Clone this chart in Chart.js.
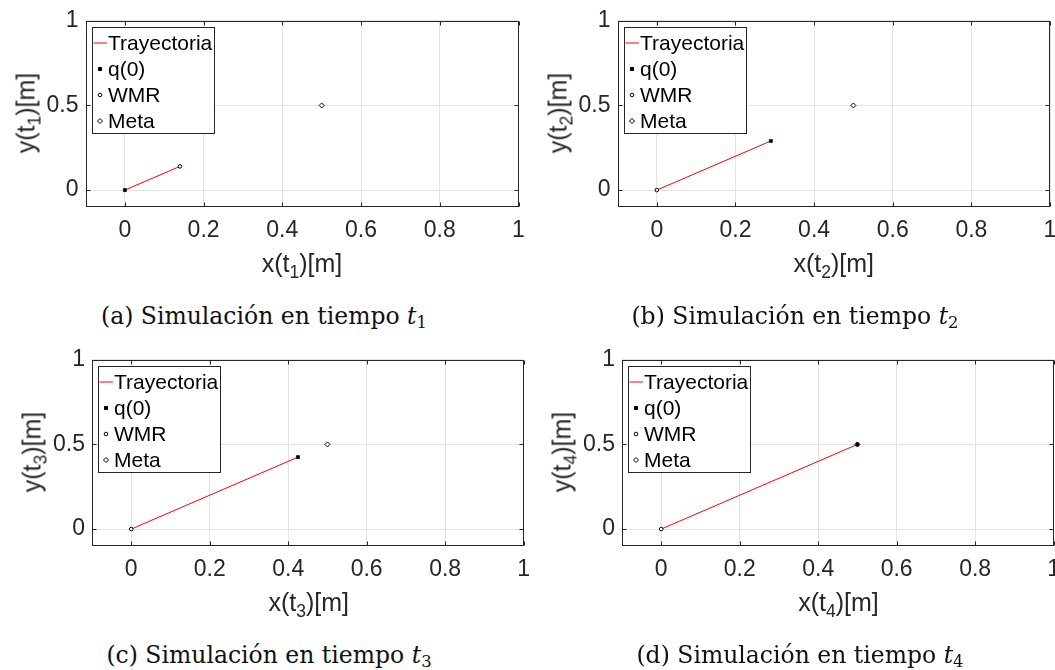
<!DOCTYPE html>
<html>
<head>
<meta charset="utf-8">
<script src="https://cdn.jsdelivr.net/npm/chart.js@4.4.1/dist/chart.umd.min.js"></script>
<style>
  html, body { margin: 0; padding: 0; background: #fff; }
  body { width: 1055px; height: 670px; position: relative; overflow: hidden; font-family: "Liberation Sans", Arial, sans-serif; }
  .panel { position: absolute; }
  .panel canvas { display: block; }
  .axlab { position: absolute; color: #262626; font-size: 25px; line-height: 1; white-space: nowrap; }
  .axlab.x { transform: translate(-50%, -50%); }
  .axlab.y { transform: translate(-50%, -50%) rotate(-90deg); }
  .axlab sub { font-size: 70%; vertical-align: -0.35em; line-height: 0; }
  .cap { position: absolute; font-family: "DejaVu Serif", serif; font-size: 23.5px; color: #111; white-space: nowrap; transform: translate(-50%, -50%); }
  .cap sub { font-size: 70%; vertical-align: -0.25em; line-height: 0; font-style: normal; }
</style>
</head>
<body>
<div id="fig"></div>
<script>
// ===== Data =====
var panelKeys = ['a', 'b', 'c', 'd'];
var timeIdx = ['1', '2', '3', '4'];
var xTicks = [0, 0.2, 0.4, 0.6, 0.8, 1];
var yTicks = [0, 0.5, 1];
var legendLabels = ['Trayectoria', 'q(0)', 'WMR', 'Meta'];

// trajectory from the start pose to the current pose, one per snapshot
var trajX = [[0, 0.14], [0, 0.29], [0, 0.425], [0, 0.5]];
var trajY = [[0, 0.14], [0, 0.29], [0, 0.425], [0, 0.5]];
var q0X = [0, 0.29, 0.425, 0.5];
var q0Y = [0, 0.29, 0.425, 0.5];
var wmrX = [0.14, 0, 0, 0];
var wmrY = [0.14, 0, 0, 0];
var metaX = [0.5, 0.5, 0.5, 0.5];
var metaY = [0.5, 0.5, 0.5, 0.5];

// ===== Layout (page pixels) =====
// container: left, top, width, height; area: plot box left, top, right, bottom
var panels = [
  { box: [0, 0, 540, 300],   area: [85.5, 18.3, 518.5, 207], cap: [264, 316] },
  { box: [525, 0, 545, 300], area: [617.5, 18.3, 1050, 207], cap: [795, 316] },
  { box: [0, 339, 540, 300], area: [92, 357.3, 525.5, 546], cap: [269, 655] },
  { box: [525, 339, 545, 300], area: [622, 357.3, 1055, 546], cap: [800, 655] }
];

var AX_COLOR = '#262626';
var GRID_COLOR = '#e4e4e4';
var FONT = '"Liberation Sans", Arial, sans-serif';

function pts(xs, ys) {
  return xs.map(function(x, i) { return { x: x, y: ys[i] }; });
}

function drawMarker(ctx, style, x, y, r, fill, stroke) {
  ctx.save();
  ctx.beginPath();
  if (style === 'rect') {
    var s = Math.SQRT1_2 * r;
    ctx.rect(x - s, y - s, 2 * s, 2 * s);
  } else if (style === 'rectRot') {
    ctx.moveTo(x, y - r); ctx.lineTo(x + r, y); ctx.lineTo(x, y + r); ctx.lineTo(x - r, y); ctx.closePath();
  } else {
    ctx.arc(x, y, r, 0, Math.PI * 2);
  }
  ctx.fillStyle = fill; ctx.fill();
  ctx.strokeStyle = stroke; ctx.lineWidth = 1; ctx.stroke();
  ctx.restore();
}

// axes box with inward ticks, like MATLAB
var framePlugin = {
  id: 'frame',
  beforeDatasetsDraw: function(chart) {
    var a = chart.chartArea, ctx = chart.ctx;
    var sx = chart.scales.x, sy = chart.scales.y;
    var L = Math.round(a.left) + 0.5, R = Math.round(a.right) - 0.5;
    var T = Math.round(a.top) + 0.5, B = Math.round(a.bottom) - 0.5;
    ctx.save();
    ctx.strokeStyle = AX_COLOR;
    ctx.lineWidth = 1;
    ctx.strokeRect(L, T, R - L, B - T);
    ctx.beginPath();
    xTicks.forEach(function(v) {
      var p = Math.round(sx.getPixelForValue(v)) + 0.5;
      ctx.moveTo(p, B); ctx.lineTo(p, B - 4);
      ctx.moveTo(p, T); ctx.lineTo(p, T + 4);
    });
    yTicks.forEach(function(v) {
      var p = Math.round(sy.getPixelForValue(v)) + 0.5;
      ctx.moveTo(L, p); ctx.lineTo(L + 4, p);
      ctx.moveTo(R, p); ctx.lineTo(R - 4, p);
    });
    ctx.stroke();
    ctx.restore();
  }
};

// boxed legend in the upper left corner of the plot
var legendPlugin = {
  id: 'boxLegend',
  afterDraw: function(chart) {
    var ctx = chart.ctx, a = chart.chartArea;
    var x = Math.round(a.left + 6) + 0.5, y = Math.round(a.top + 6) + 0.5;
    var sets = chart.data.datasets;
    ctx.save();
    ctx.font = '21px ' + FONT;
    var tw = 0;
    sets.forEach(function(d) { tw = Math.max(tw, ctx.measureText(d.label).width); });
    var w = Math.round(15.5 + tw + 2), h = 106;
    ctx.fillStyle = '#fff';
    ctx.fillRect(x, y, w, h);
    ctx.strokeStyle = AX_COLOR;
    ctx.lineWidth = 1;
    ctx.strokeRect(x, y, w, h);
    sets.forEach(function(d, k) {
      var cy = y + 15.5 + k * 26;
      if (d.showLine) {
        ctx.beginPath();
        ctx.moveTo(x + 1, cy); ctx.lineTo(x + 14.5, cy);
        ctx.strokeStyle = d.borderColor; ctx.lineWidth = 1; ctx.stroke();
      } else {
        drawMarker(ctx, d.pointStyle, x + 7.5, cy, d.pointRadius, d.backgroundColor, d.borderColor);
      }
      ctx.fillStyle = '#000';
      ctx.textBaseline = 'middle';
      ctx.textAlign = 'left';
      ctx.fillText(d.label, x + 15.5, cy + 1);
    });
    ctx.restore();
  }
};

function buildPanel(i) {
  var p = panels[i];
  var bx = p.box, ar = p.area;
  var fig = document.getElementById('fig');

  var wrap = document.createElement('div');
  wrap.className = 'panel';
  wrap.style.left = bx[0] + 'px';
  wrap.style.top = bx[1] + 'px';
  var canvas = document.createElement('canvas');
  canvas.width = bx[2]; canvas.height = bx[3];
  canvas.style.width = bx[2] + 'px'; canvas.style.height = bx[3] + 'px';
  wrap.appendChild(canvas);
  fig.appendChild(wrap);

  var t = timeIdx[i];
  var xl = document.createElement('div');
  xl.className = 'axlab x';
  xl.innerHTML = 'x(t<sub>' + t + '</sub>)[m]';
  xl.style.left = ((ar[0] + ar[2]) / 2) + 'px';
  xl.style.top = (ar[3] + 56) + 'px';
  fig.appendChild(xl);

  var yl = document.createElement('div');
  yl.className = 'axlab y';
  yl.innerHTML = 'y(t<sub>' + t + '</sub>)[m]';
  yl.style.left = (ar[0] - 60) + 'px';
  yl.style.top = ((ar[1] + ar[3]) / 2) + 'px';
  fig.appendChild(yl);

  var cap = document.createElement('div');
  cap.className = 'cap';
  cap.innerHTML = '(' + panelKeys[i] + ') Simulación en tiempo <i>t</i><sub>' + t + '</sub>';
  cap.style.left = p.cap[0] + 'px';
  cap.style.top = p.cap[1] + 'px';
  fig.appendChild(cap);

  var tickFont = { family: FONT, size: 23 };

  new Chart(canvas, {
    type: 'scatter',
    data: {
      datasets: [
        { label: legendLabels[0], data: pts(trajX[i], trajY[i]), showLine: true, borderColor: '#ff0000', borderWidth: 1, pointRadius: 0, order: 4 },
        { label: legendLabels[1], data: pts([q0X[i]], [q0Y[i]]), pointStyle: 'rect', pointRadius: 2.2, backgroundColor: '#000', borderColor: '#000', borderWidth: 0.6, order: 1 },
        { label: legendLabels[2], data: pts([wmrX[i]], [wmrY[i]]), pointStyle: 'circle', pointRadius: 1.8, backgroundColor: '#fff', borderColor: '#000', borderWidth: 1, order: 2 },
        { label: legendLabels[3], data: pts([metaX[i]], [metaY[i]]), pointStyle: 'rectRot', pointRadius: 2.5, backgroundColor: '#fff', borderColor: '#000', borderWidth: 1, order: 3 }
      ]
    },
    options: {
      responsive: false,
      animation: false,
      events: [],
      layout: { padding: { left: 0, top: ar[1] - bx[1], right: bx[0] + bx[2] - ar[2], bottom: 0 } },
      plugins: { legend: { display: false }, tooltip: { enabled: false } },
      scales: {
        x: {
          type: 'linear', min: -0.1, max: 1,
          afterBuildTicks: function(s) { s.ticks = xTicks.map(function(v) { return { value: v }; }); },
          afterFit: function(s) { s.height = bx[1] + bx[3] - ar[3]; },
          grid: { color: GRID_COLOR, drawTicks: false },
          border: { display: false },
          ticks: { color: AX_COLOR, font: tickFont, padding: 10, maxRotation: 0, callback: function(v) { return String(v); } }
        },
        y: {
          type: 'linear', min: -0.1, max: 1,
          afterBuildTicks: function(s) { s.ticks = yTicks.map(function(v) { return { value: v }; }); },
          afterFit: function(s) { s.width = ar[0] - bx[0]; },
          grid: { color: GRID_COLOR, drawTicks: false },
          border: { display: false },
          ticks: { color: AX_COLOR, font: tickFont, padding: 7, callback: function(v) { return String(v); } }
        }
      }
    },
    plugins: [framePlugin, legendPlugin]
  });
}

panelKeys.forEach(function(k, i) { buildPanel(i); });
</script>
</body>
</html>
